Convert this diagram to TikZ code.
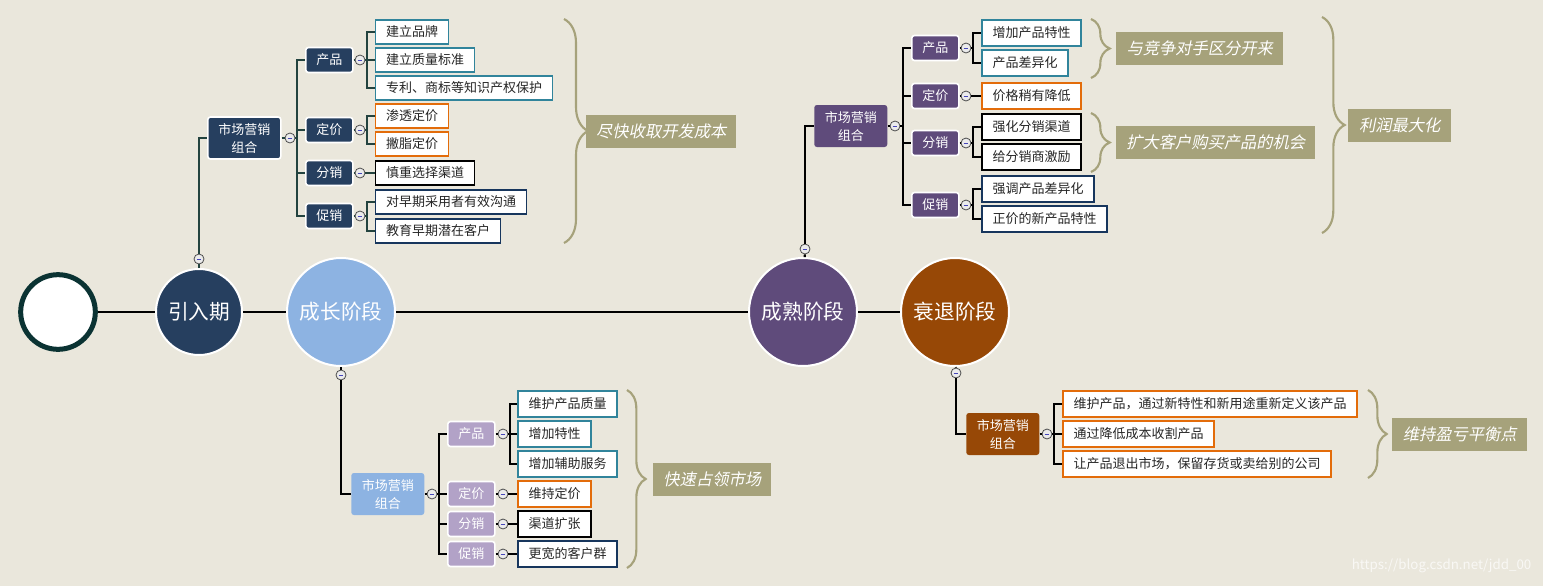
\documentclass[tikz,border=0pt]{standalone}
\usepackage{fontspec}
\setmainfont{Noto Sans CJK SC}
\newfontfamily\slantfont[FakeSlant=0.2]{Noto Sans CJK SC}
\usepackage{tikz}
\usetikzlibrary{calc, positioning, decorations.pathreplacing}

\definecolor{bgbeige}{HTML}{EAE7DC}
\definecolor{navy}{HTML}{263F5F}
\definecolor{skyblue}{HTML}{8DB3E2}
\definecolor{plum}{HTML}{5F4B7B}
\definecolor{rust}{HTML}{974806}
\definecolor{lilac}{HTML}{B2A2C7}
\definecolor{tealbd}{HTML}{31849B}
\definecolor{orangebd}{HTML}{E36C0A}
\definecolor{navybd}{HTML}{17365D}
\definecolor{olive}{HTML}{A6A27B}
\definecolor{startteal}{HTML}{0B3333}
\definecolor{thinline}{HTML}{23433F}

\tikzset{
    stage/.style={circle, draw=white, line width=1.5pt, text=white, inner sep=0pt,
        font=\fontsize{15.5}{18}\selectfont},
    mix/.style={rounded corners=2pt, text=white, align=center, anchor=west,
        minimum width=54.75pt, minimum height=31.5pt, inner sep=0pt,
        font=\fontsize{9.75}{13.5}\selectfont},
    cat/.style={rounded corners=2pt, draw=white, line width=1.2pt, text=white, anchor=west,
        minimum height=18.75pt, inner xsep=7.9pt, inner ysep=0pt,
        font=\fontsize{9.75}{12}\selectfont},
    leaf/.style={draw, fill=white, text=black!85, anchor=west,
        minimum height=18pt, inner xsep=7.9pt, inner ysep=0pt,
        font=\fontsize{9.75}{12}\selectfont},
    thinleaf/.style={leaf, line width=0.9pt},
    thickleaf/.style={leaf, line width=1.6pt, minimum height=19.5pt},
    sumbox/.style={fill=olive, text=white, anchor=west, minimum height=24.75pt, inner sep=0pt,
        font=\slantfont\fontsize{12.2}{14}\selectfont},
    curly/.style={draw=olive, line width=1.6pt, decorate, decoration={brace, amplitude=#1}},
    fold/.style={circle, draw=black!70, fill=white!92!black, line width=0.6pt,
        minimum size=7.5pt, inner sep=0pt,
        path picture={\draw[line width=0.7pt, blue!45!gray]
            ([xshift=-1.8pt]path picture bounding box.center) --
            ([xshift=1.8pt]path picture bounding box.center);}},
    lnA/.style={draw=thinline, line width=1pt},
    lnB/.style={draw=black, line width=1.6pt},
    mainline/.style={draw=black, line width=1.5pt},
}

\begin{document}
\begin{tikzpicture}[x=0.75pt, y=-0.75pt]
    \useasboundingbox (0,0) rectangle (1543,586);
    \fill[bgbeige] (0,0) rectangle (1543,586);

    % stages
    \node[circle, draw=startteal, line width=3.75pt, fill=white, minimum size=56pt] (start) at (58,312) {};
    \node[stage, fill=navy, minimum size=64.5pt] (intro) at (199,312) {引入期};
    \node[stage, fill=skyblue, minimum size=81pt] (growth) at (341,312) {成长阶段};
    \node[stage, fill=plum, minimum size=81pt] (mature) at (803,312) {成熟阶段};
    \node[stage, fill=rust, minimum size=81pt] (decline) at (955,312) {衰退阶段};

    \draw[mainline] (start) -- (intro) -- (growth) -- (mature) -- (decline);

    % intro
    \node[fold] (intro-f) at (199,259) {};
    \node[mix, fill=navy, draw=white, line width=1.2pt] (intro-mix) at (207,138) {市场营销\\组合};
    \node[fold] (intro-mix-f) at (290,138) {};
    \coordinate (intro-mix-j) at (297,138);

    \node[cat, fill=navy] (intro-prod) at (305,60) {产品};
    \node[cat, fill=navy] (intro-price) at (305,130) {定价};
    \node[cat, fill=navy] (intro-place) at (305,173) {分销};
    \node[cat, fill=navy] (intro-promo) at (305,216) {促销};

    \foreach \c/\y in {prod/60, price/130, place/173, promo/216} {
        \node[fold] (intro-\c-f) at (360,\y) {};
        \coordinate (intro-\c-j) at (367,\y);
    }

    \node[thinleaf, draw=tealbd] (intro-prod-1) at (375,32) {建立品牌};
    \node[thinleaf, draw=tealbd] (intro-prod-2) at (375,60) {建立质量标准};
    \node[thinleaf, draw=tealbd] (intro-prod-3) at (375,88) {专利、商标等知识产权保护};
    \node[thinleaf, draw=orangebd] (intro-price-1) at (375,116) {渗透定价};
    \node[thinleaf, draw=orangebd] (intro-price-2) at (375,144) {撇脂定价};
    \node[thinleaf, draw=black] (intro-place-1) at (375,173) {慎重选择渠道};
    \node[thinleaf, draw=navybd] (intro-promo-1) at (375,202) {对早期采用者有效沟通};
    \node[thinleaf, draw=navybd] (intro-promo-2) at (375,231) {教育早期潜在客户};

    \draw[lnA] (intro) -- (intro-f);
    \draw[lnA] (intro-f) |- (intro-mix);
    \draw[lnA] (intro-mix) -- (intro-mix-f) -- (intro-mix-j);
    \foreach \c/\n in {prod/3, price/2, place/1, promo/2} {
        \draw[lnA] (intro-mix-j) |- (intro-\c);
        \draw[lnA] (intro-\c) -- (intro-\c-f) -- (intro-\c-j);
        \foreach \i in {1,...,\n}
            \draw[lnA] (intro-\c-j) |- (intro-\c-\i.west);
    }

    \draw[curly=18pt] (564,19) -- (564,243);
    \node[sumbox, minimum width=112.5pt] (intro-sum) at (586,131) {尽快收取开发成本};

    % growth
    \node[fold] (growth-f) at (341,375) {};
    \node[mix, fill=skyblue] (growth-mix) at (351,494) {市场营销\\组合};
    \node[fold] (growth-mix-f) at (432,494) {};
    \coordinate (growth-mix-j) at (439,494);

    \node[cat, fill=lilac] (growth-prod) at (447,434) {产品};
    \node[cat, fill=lilac] (growth-price) at (447,494) {定价};
    \node[cat, fill=lilac] (growth-place) at (447,524) {分销};
    \node[cat, fill=lilac] (growth-promo) at (447,554) {促销};

    \foreach \c/\y in {prod/434, price/494, place/524, promo/554} {
        \node[fold] (growth-\c-f) at (503,\y) {};
        \coordinate (growth-\c-j) at (510,\y);
    }

    \node[thickleaf, draw=tealbd] (growth-prod-1) at (517,404) {维护产品质量};
    \node[thickleaf, draw=tealbd] (growth-prod-2) at (517,434) {增加特性};
    \node[thickleaf, draw=tealbd] (growth-prod-3) at (517,464) {增加辅助服务};
    \node[thickleaf, draw=orangebd] (growth-price-1) at (517,494) {维持定价};
    \node[thickleaf, draw=black] (growth-place-1) at (517,524) {渠道扩张};
    \node[thickleaf, draw=navybd] (growth-promo-1) at (517,554) {更宽的客户群};

    \draw[lnB] (growth) -- (growth-f);
    \draw[lnB] (growth-f) |- (growth-mix);
    \draw[lnB] (growth-mix) -- (growth-mix-f) -- (growth-mix-j);
    \foreach \c/\n in {prod/3, price/1, place/1, promo/1} {
        \draw[lnB] (growth-mix-j) |- (growth-\c);
        \draw[lnB] (growth-\c) -- (growth-\c-f) -- (growth-\c-j);
        \foreach \i in {1,...,\n}
            \draw[lnB] (growth-\c-j) |- (growth-\c-\i.west);
    }

    \draw[curly=14pt] (627,390) -- (627,568);
    \node[sumbox, minimum width=88.5pt] (growth-sum) at (653,479) {快速占领市场};

    % mature
    \node[fold] (mature-f) at (805,249) {};
    \node[mix, fill=plum] (mature-mix) at (814,126) {市场营销\\组合};
    \node[fold] (mature-mix-f) at (895,126) {};
    \coordinate (mature-mix-j) at (903,126);

    \node[cat, fill=plum] (mature-prod) at (911,48) {产品};
    \node[cat, fill=plum] (mature-price) at (911,96) {定价};
    \node[cat, fill=plum] (mature-place) at (911,143) {分销};
    \node[cat, fill=plum] (mature-promo) at (911,205) {促销};

    \foreach \c/\y in {prod/48, price/96, place/143, promo/205} {
        \node[fold] (mature-\c-f) at (966,\y) {};
        \coordinate (mature-\c-j) at (973,\y);
    }

    \node[thickleaf, draw=tealbd] (mature-prod-1) at (981,33) {增加产品特性};
    \node[thickleaf, draw=tealbd] (mature-prod-2) at (981,63) {产品差异化};
    \node[thickleaf, draw=orangebd] (mature-price-1) at (981,96) {价格稍有降低};
    \node[thickleaf, draw=black] (mature-place-1) at (981,127) {强化分销渠道};
    \node[thickleaf, draw=black] (mature-place-2) at (981,157) {给分销商激励};
    \node[thickleaf, draw=navybd] (mature-promo-1) at (981,189) {强调产品差异化};
    \node[thickleaf, draw=navybd] (mature-promo-2) at (981,219) {正价的新产品特性};

    \draw[lnB] (mature) -- (mature-f);
    \draw[lnB] (mature-f) |- (mature-mix);
    \draw[lnB] (mature-mix) -- (mature-mix-f) -- (mature-mix-j);
    \foreach \c/\n in {prod/2, price/1, place/2, promo/2} {
        \draw[lnB] (mature-mix-j) |- (mature-\c);
        \draw[lnB] (mature-\c) -- (mature-\c-f) -- (mature-\c-j);
        \foreach \i in {1,...,\n}
            \draw[lnB] (mature-\c-j) |- (mature-\c-\i.west);
    }

    \draw[curly=14pt] (1091,19) -- (1091,78);
    \node[sumbox, minimum width=125.25pt] (mature-sum-1) at (1116,48) {与竞争对手区分开来};
    \draw[curly=14pt] (1091,113) -- (1091,172);
    \node[sumbox, minimum width=149.25pt] (mature-sum-2) at (1116,142) {扩大客户购买产品的机会};
    \draw[curly=17pt] (1322,17) -- (1322,233);
    \node[sumbox, minimum width=77.25pt] (mature-sum) at (1348,125) {利润最大化};

    % decline
    \node[fold] (decline-f) at (956,373) {};
    \node[mix, fill=rust] (decline-mix) at (966,434) {市场营销\\组合};
    \node[fold] (decline-mix-f) at (1047,434) {};
    \coordinate (decline-mix-j) at (1054,434);

    \node[thickleaf, draw=orangebd] (decline-1) at (1062,404) {维护产品，通过新特性和新用途重新定义该产品};
    \node[thickleaf, draw=orangebd] (decline-2) at (1062,434) {通过降低成本收割产品};
    \node[thickleaf, draw=orangebd] (decline-3) at (1062,464) {让产品退出市场，保留存货或卖给别的公司};

    \draw[lnB] (decline) -- (decline-f);
    \draw[lnB] (decline-f) |- (decline-mix);
    \draw[lnB] (decline-mix) -- (decline-mix-f) -- (decline-mix-j);
    \foreach \i in {1,2,3}
        \draw[lnB] (decline-mix-j) |- (decline-\i.west);

    \draw[curly=14pt] (1368,390) -- (1368,478);
    \node[sumbox, minimum width=101.25pt] (decline-sum) at (1392,434) {维持盈亏平衡点};

    \node[anchor=east, text=white!70!bgbeige, font=\fontsize{10}{12}\selectfont] (mark) at (1536,566) {https://blog.csdn.net/jdd\_00};
\end{tikzpicture}
\end{document}
